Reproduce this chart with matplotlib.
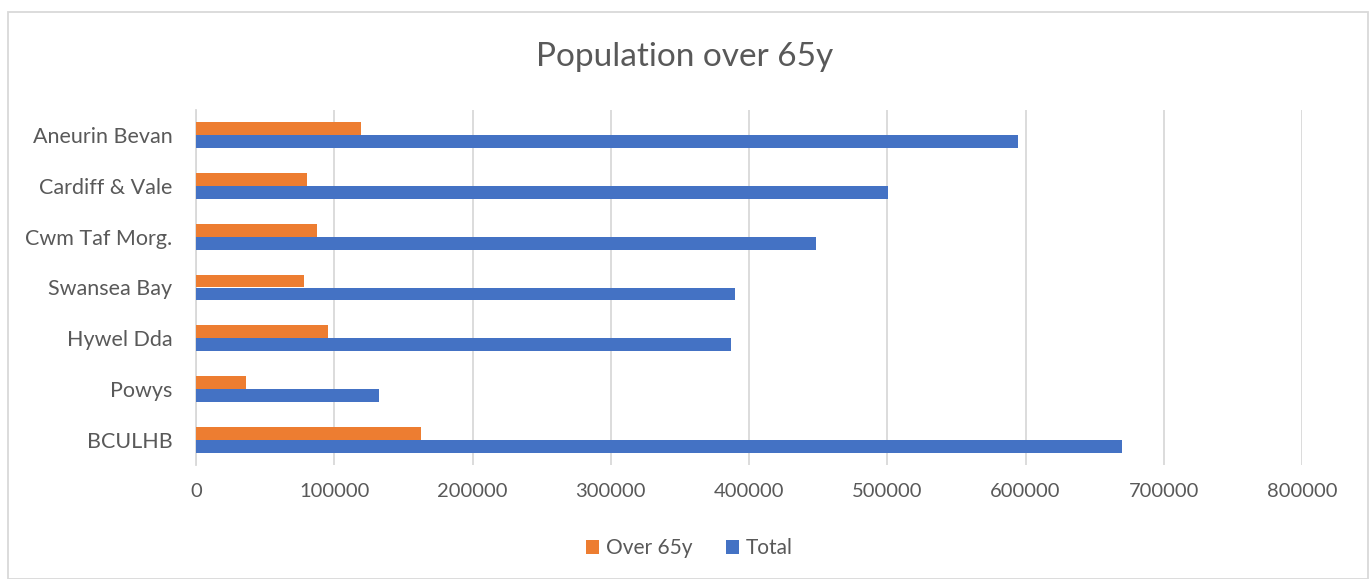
import matplotlib.pyplot as plt
from matplotlib.patches import Rectangle
import numpy as np

plt.rcParams['font.family'] = ['Lato', 'DejaVu Sans']

boards = ["BCULHB", "Powys", "Hywel Dda", "Swansea Bay", "Cwm Taf Morg.",
          "Cardiff & Vale", "Aneurin Bevan"]
over_65 = [163000, 36200, 95700, 78100, 87500, 80000, 119300]
total = [670000, 132300, 387100, 390200, 448800, 500400, 594700]

ORANGE = '#ED7D31'
BLUE = '#4472C4'
GREY = '#595959'


def main():
    fig = plt.figure(figsize=(13.7, 5.79), dpi=100)
    ax = fig.add_axes([196 / 1370, 1 - 465 / 579, (1302 - 196) / 1370, (465 - 110) / 579])

    y = np.arange(len(boards))
    h = 0.256
    ax.barh(y + h / 2, over_65, height=h, color=ORANGE, label="Over 65y", zorder=3)
    ax.barh(y - h / 2, total, height=h, color=BLUE, label="Total", zorder=3)

    ax.set_xlim(0, 800000)
    ax.set_ylim(-0.5, len(boards) - 0.5)
    ax.set_xticks(np.arange(0, 800001, 100000))
    ax.set_xticklabels([str(v) for v in range(0, 800001, 100000)])
    ax.set_yticks(y)
    ax.set_yticklabels(boards)
    ax.tick_params(axis='both', length=0, colors=GREY)
    ax.tick_params(axis='x', pad=13, labelsize=14.5)
    ax.tick_params(axis='y', pad=17, labelsize=15.5)
    ax.grid(axis='x', color='#d9d9d9', linewidth=1.3, zorder=0)
    for s in ['top', 'right', 'bottom']:
        ax.spines[s].set_visible(False)
    ax.spines['left'].set_color('#d9d9d9')
    ax.spines['left'].set_linewidth(1.3)

    fig.text(0.5, 1 - 57 / 579, "Population over 65y", ha='center', va='center',
             fontsize=24, color=GREY)

    fig.legend(loc='center', bbox_to_anchor=(0.503, 1 - 548 / 579), ncol=2, frameon=False,
               fontsize=15, labelcolor=GREY, handlelength=0.65, handleheight=0.65,
               handletextpad=0.3, columnspacing=1.6)

    fig.patches.append(Rectangle((8 / 1370, 0), 1360 / 1370, 1 - 12 / 579,
                                 transform=fig.transFigure, fill=False,
                                 edgecolor='#d9d9d9', linewidth=1.3))

    fig.savefig("out.png", dpi=100)


if __name__ == "__main__":
    main()
